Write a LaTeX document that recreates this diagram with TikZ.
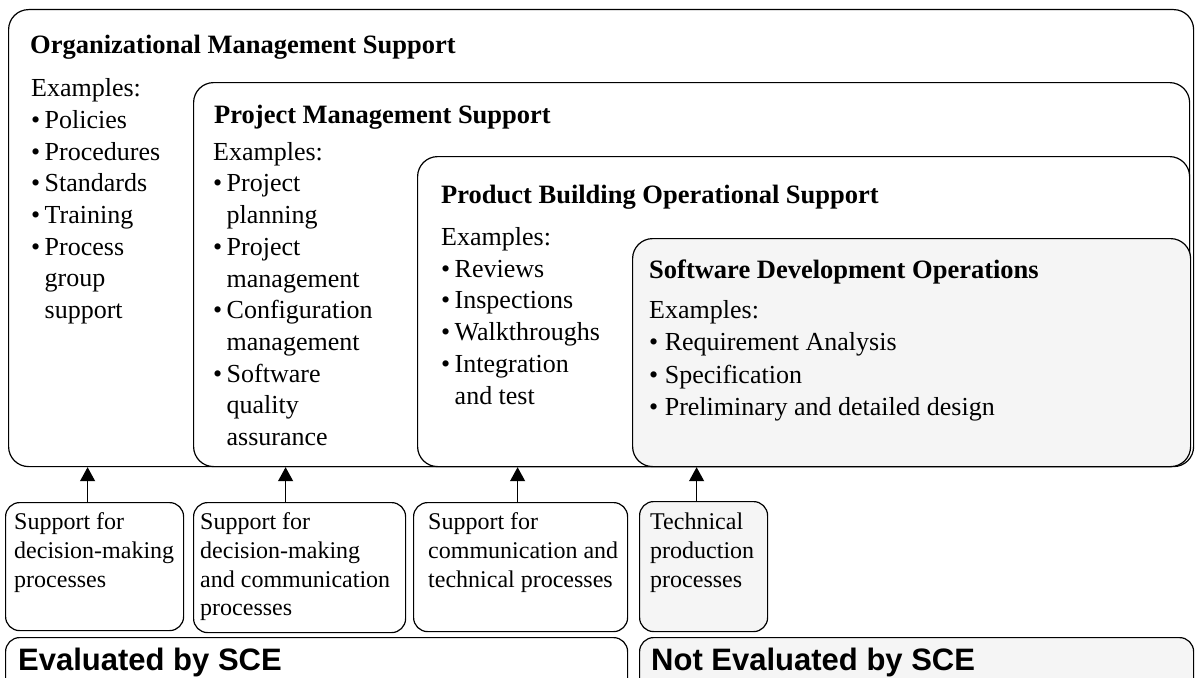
\documentclass[tikz,border=0pt]{standalone}
\usepackage{fontspec}
\setmainfont{Liberation Serif}
\newfontfamily\scefont{Liberation Sans}
\usetikzlibrary{arrows.meta, positioning}

\definecolor{opsgray}{HTML}{F5F5F5}

\newcommand{\bul}{\makebox[13.5pt][l]{\textbullet}}
\newcommand{\ind}{\hspace*{13.5pt}}

\begin{document}
\begin{tikzpicture}[x=1pt, y=-1pt,
    areabox/.style={draw, line width=1.2pt, rounded corners=20pt, inner sep=0pt, anchor=north west},
    procbox/.style={draw, line width=1.2pt, rounded corners=14pt, inner sep=0pt, anchor=north west},
    headtext/.style={anchor=base west, inner sep=0pt, font=\fontsize{26.5}{31.7}\selectfont\bfseries},
    bodytext/.style={anchor=base west, inner sep=0pt, align=left, font=\fontsize{26}{31.7}\selectfont},
    proctext/.style={anchor=base west, inner sep=0pt, align=left, font=\fontsize{24}{28.7}\selectfont},
    scetext/.style={anchor=base west, inner sep=0pt, font=\fontsize{31}{36}\selectfont\scefont\bfseries},
    support/.style={-{Triangle[width=15pt,length=14pt]}, line width=1.2pt}]
    \useasboundingbox (0,0) rectangle (1198,677);

    % nested support areas
    \node [areabox, minimum width=1185pt, minimum height=457pt] (org) at (8,9) {};
    \node [areabox, minimum width=996pt, minimum height=384pt] (proj) at (193,82) {};
    \node [areabox, minimum width=772pt, minimum height=310pt] (prod) at (417,156) {};
    \node [areabox, fill=opsgray, minimum width=558pt, minimum height=228pt] (ops) at (632,238) {};

    % multi-line texts are placed by the baseline of their last line
    \node [headtext] (orgh) at (30,53) {Organizational Management Support};
    \node [bodytext] (orgb) at (31,318.5) {Examples:\\ \bul Policies\\ \bul Procedures\\ \bul Standards\\
        \bul Training\\ \bul Process\\ \ind group\\ \ind support};

    \node [headtext] (projh) at (214,123) {Project Management Support};
    \node [bodytext] (projb) at (213,445.5) {Examples:\\ \bul Project\\ \ind planning\\ \bul Project\\
        \ind management\\ \bul Configuration\\ \ind management\\ \bul Software\\ \ind quality\\ \ind assurance};

    \node [headtext] (prodh) at (441,203) {Product Building Operational Support};
    \node [bodytext] (prodb) at (441,404) {Examples:\\ \bul Reviews\\ \bul Inspections\\ \bul Walkthroughs\\
        \bul Integration\\ \ind and test};

    \node [headtext] (opsh) at (649,278) {Software Development Operations};
    \node [bodytext, font=\fontsize{26}{32.5}\selectfont] (opsb) at (649,415.5) {Examples:\\
        \textbullet{} Requirement Analysis\\ \textbullet{} Specification\\ \textbullet{} Preliminary and detailed design};

    % process boxes
    \node [procbox, minimum width=178pt, minimum height=128pt] (pdec) at (5,502) {};
    \node [procbox, minimum width=212pt, minimum height=130pt] (pcom) at (193,502) {};
    \node [procbox, minimum width=214pt, minimum height=129pt] (ptec) at (413,502) {};
    \node [procbox, fill=opsgray, minimum width=128pt, minimum height=130pt] (pprod) at (639,501) {};

    \node [proctext] (tdec) at (14,587) {Support for\\ decision-making\\ processes};
    \node [proctext] (tcom) at (200,615.7) {Support for\\ decision-making\\ and communication\\ processes};
    \node [proctext] (ttec) at (428,587) {Support for\\ communication and\\ technical processes};
    \node [proctext] (tprod) at (650,587) {Technical\\ production\\ processes};

    \draw [support] ([xshift=-7pt]pdec.north) -- ([xshift=-7pt]pdec.north |- org.south);
    \draw [support] ([xshift=-14pt]pcom.north) -- ([xshift=-14pt]pcom.north |- proj.south);
    \draw [support] ([xshift=-3pt]ptec.north) -- ([xshift=-3pt]ptec.north |- prod.south);
    \draw [support] ([xshift=-7pt]pprod.north) -- ([xshift=-7pt]pprod.north |- ops.south);

    % evaluation bands
    \node [procbox, minimum width=622pt, minimum height=60pt] (eval) at (5,637) {};
    \node [procbox, fill=opsgray, minimum width=554pt, minimum height=60pt] (noteval) at (639,637) {};
    \node [scetext] (evalt) at (18,670) {Evaluated by SCE};
    \node [scetext] (notevalt) at (651,670) {Not Evaluated by SCE};
\end{tikzpicture}
\end{document}
